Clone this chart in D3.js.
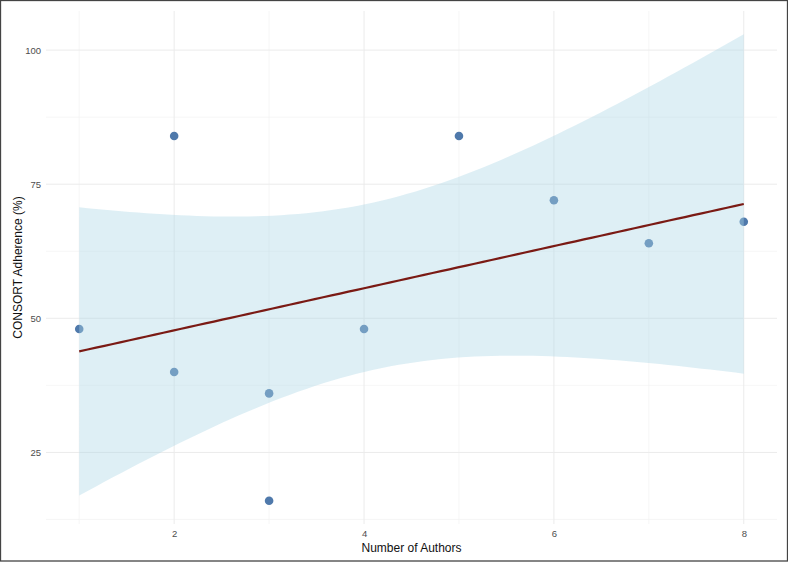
<!DOCTYPE html>
<html>
<head>
<meta charset="utf-8">
<script src="https://cdn.jsdelivr.net/npm/d3@7"></script>
<style>
  body { margin: 0; background: #fff; }
  text { font-family: "Liberation Sans", Arial, sans-serif; }
</style>
</head>
<body>
<svg id="svg"></svg>
<script>
// data
var authors   = [1, 2, 2, 3, 3, 4, 5, 6, 7, 8];
var adherence = [48, 84, 40, 36, 16, 48, 84, 72, 64, 68];
var xTicks = [2, 4, 6, 8];
var yTicks = [25, 50, 75, 100];
var xMinor = [1, 3, 5, 7];
var yMinor = [12.5, 37.5, 62.5, 87.5];
var tCrit = 2.306; // t(0.975, df = 8)

var width = 788, height = 562;
var panel = {left: 46, right: 777, top: 11, bottom: 524};

var svg = d3.select("#svg").attr("width", width).attr("height", height);

// linear fit + 95% confidence band, like geom_smooth(method = "lm")
var n = authors.length,
	mx = d3.mean(authors), my = d3.mean(adherence),
	sxx = d3.sum(authors, function(x){ return (x - mx) * (x - mx); }),
	sxy = d3.sum(authors, function(x, i){ return (x - mx) * (adherence[i] - my); }),
	slope = sxy / sxx,
	icpt = my - slope * mx,
	sse = d3.sum(authors, function(x, i){ var r = adherence[i] - (icpt + slope * x); return r * r; }),
	s = Math.sqrt(sse / (n - 2));

var fitX = d3.range(80).map(function(i){ return 1 + i * 7 / 79; });
var fit = fitX.map(function(x){
	var yhat = icpt + slope * x,
		se = s * Math.sqrt(1 / n + (x - mx) * (x - mx) / sxx);
	return {x: x, y: yhat, lo: yhat - tCrit * se, hi: yhat + tCrit * se};
});

// limits including the band, expanded 5% like ggplot
var xmin = d3.min(authors), xmax = d3.max(authors),
	ymin = Math.min(d3.min(adherence), d3.min(fit, function(d){ return d.lo; })),
	ymax = Math.max(d3.max(adherence), d3.max(fit, function(d){ return d.hi; }));
var xe = (xmax - xmin) * 0.05, ye = (ymax - ymin) * 0.05;

var x = d3.scaleLinear().domain([xmin - xe, xmax + xe]).range([panel.left, panel.right]);
var y = d3.scaleLinear().domain([ymin - ye, ymax + ye]).range([panel.bottom, panel.top]);

// grid
var grid = svg.append("g");
grid.selectAll(".ymin").data(yMinor).enter().append("line")
	.attr("x1", panel.left).attr("x2", panel.right)
	.attr("y1", function(d){ return y(d); }).attr("y2", function(d){ return y(d); })
	.attr("stroke", "#f2f2f2").attr("stroke-width", 0.7);
grid.selectAll(".xmin").data(xMinor).enter().append("line")
	.attr("y1", panel.top).attr("y2", panel.bottom)
	.attr("x1", function(d){ return x(d); }).attr("x2", function(d){ return x(d); })
	.attr("stroke", "#f2f2f2").attr("stroke-width", 0.7);
grid.selectAll(".ymaj").data(yTicks).enter().append("line")
	.attr("x1", panel.left).attr("x2", panel.right)
	.attr("y1", function(d){ return y(d); }).attr("y2", function(d){ return y(d); })
	.attr("stroke", "#ebebeb").attr("stroke-width", 1);
grid.selectAll(".xmaj").data(xTicks).enter().append("line")
	.attr("y1", panel.top).attr("y2", panel.bottom)
	.attr("x1", function(d){ return x(d); }).attr("x2", function(d){ return x(d); })
	.attr("stroke", "#ebebeb").attr("stroke-width", 1);

// points (under the band, so they look lighter inside it)
svg.append("g").selectAll("circle").data(authors).enter().append("circle")
	.attr("cx", function(d){ return x(d); })
	.attr("cy", function(d, i){ return y(adherence[i]); })
	.attr("r", 4.3)
	.attr("fill", "#4f79ab");

// confidence band
var area = d3.area()
	.x(function(d){ return x(d.x); })
	.y0(function(d){ return y(d.lo); })
	.y1(function(d){ return y(d.hi); });
svg.append("path").datum(fit).attr("d", area)
	.attr("fill", "#add8e6").attr("fill-opacity", 0.4);

// fitted line
var line = d3.line().x(function(d){ return x(d.x); }).y(function(d){ return y(d.y); });
svg.append("path").datum(fit).attr("d", line)
	.attr("fill", "none").attr("stroke", "#7a1a14").attr("stroke-width", 2.2);

// axes (text only, theme_minimal style)
var xAxis = svg.append("g").attr("transform", "translate(0," + panel.bottom + ")")
	.call(d3.axisBottom(x).tickValues(xTicks).tickSize(0).tickPadding(6));
var yAxis = svg.append("g").attr("transform", "translate(" + panel.left + ",0)")
	.call(d3.axisLeft(y).tickValues(yTicks).tickSize(0).tickPadding(5));
[xAxis, yAxis].forEach(function(a){
	a.select(".domain").remove();
	a.selectAll("text").attr("fill", "#4d4d4d").style("font-size", "9.5px")
		.style("font-family", "'Liberation Sans', Arial, sans-serif");
});

svg.append("text")
	.attr("x", (panel.left + panel.right) / 2).attr("y", 552)
	.attr("text-anchor", "middle").style("font-size", "12px").attr("fill", "#111")
	.text("Number of Authors");
svg.append("text")
	.attr("transform", "translate(22," + ((panel.top + panel.bottom) / 2) + ") rotate(-90)")
	.attr("text-anchor", "middle").style("font-size", "12px").attr("fill", "#111")
	.text("CONSORT Adherence (%)");

// outer frame
svg.append("rect").attr("x", 0.5).attr("y", 0.5).attr("width", width - 1).attr("height", height - 1.5)
	.attr("fill", "none").attr("stroke", "#444").attr("stroke-width", 1.3);
</script>
</body>
</html>
